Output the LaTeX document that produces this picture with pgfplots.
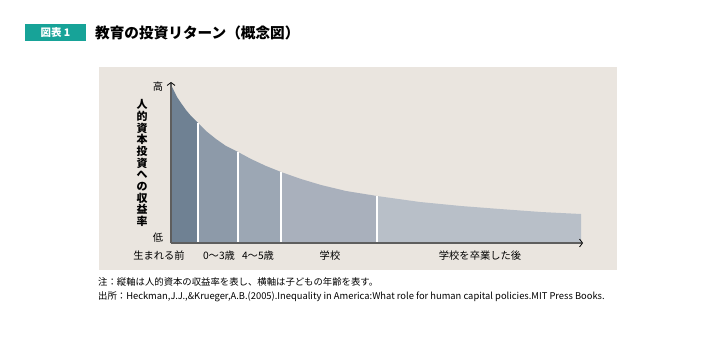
\documentclass[border=0pt]{standalone}
\usepackage{pgfplots}
\pgfplotsset{compat=1.18}
\usepackage{fontspec}
\setmainfont{Noto Sans CJK JP}
\usetikzlibrary{arrows.meta}
\definecolor{bg}{HTML}{EAE5DF}
\definecolor{tealbox}{HTML}{17A398}
\definecolor{axgray}{HTML}{5E5E5E}
\definecolor{s1}{HTML}{6F8193}
\definecolor{s2}{HTML}{8D9AA9}
\definecolor{s3}{HTML}{9CA7B4}
\definecolor{s4}{HTML}{A9B0BC}
\definecolor{s5}{HTML}{B8BFC8}
\begin{document}
\begin{tikzpicture}[x=1bp,y=1bp]
\fill[white] (0,0) rectangle (717,340);
\fill[bg] (99,70) rectangle (617,273);
\fill[tealbox] (25,299) rectangle (86,316);
\node[white, font=\fontsize{10.5}{12}\selectfont\bfseries, inner sep=0] at (55.5,307.5) {図表 1};
\node[anchor=west, font=\fontsize{14.7}{16}\selectfont\bfseries, inner sep=0] at (95,307.5) {教育の投資リターン（概念図）};
\begin{axis}[at={(171bp,97bp)}, anchor=south west, scale only axis,
  width=412bp, height=161bp, xmin=0, xmax=412, ymin=0, ymax=161,
  axis lines=left, axis on top, ticks=none, clip=false,
  axis line style={draw=axgray, line width=1.6bp, -{Straight Barb[length=3bp,width=8bp,black,line width=0.8bp]}}]
\addplot[fill=s1, draw=none] coordinates {(0,158) (3,152) (6,146) (10,140) (15,133) (20,127) (27,120)} \closedcycle;
\addplot[fill=s2, draw=none] coordinates {(27,120) (35,112) (45,104) (55,97) (67,91)} \closedcycle;
\addplot[fill=s3, draw=none] coordinates {(67,91) (80,84) (95,77) (110,71)} \closedcycle;
\addplot[fill=s4, draw=none] coordinates {(110,71) (130,64) (150,58) (175,52) (206,47)} \closedcycle;
\addplot[fill=s5, draw=none] coordinates {(206,47) (249,41) (290,37) (329,34) (370,31) (410,29)} \closedcycle;
\addplot[white, line width=1.2bp] coordinates {(27,0) (27,120)};
\addplot[white, line width=1.2bp] coordinates {(67,0) (67,91)};
\addplot[white, line width=1.2bp] coordinates {(110,0) (110,71)};
\addplot[white, line width=1.2bp] coordinates {(206,0) (206,47)};
\begin{scope}[every node/.style={font=\fontsize{10.3}{11}\selectfont, inner sep=0}]
\node at (axis cs:-12,-13) {生まれる前};
\node at (axis cs:48,-13) {0〜3歳};
\node at (axis cs:87,-13) {4〜5歳};
\node at (axis cs:159,-13) {学校};
\node at (axis cs:309,-13) {学校を卒業した後};
\node at (axis cs:-13,156) {高};
\node at (axis cs:-13,5) {低};
\end{scope}
\node[font=\fontsize{11}{11.7}\selectfont\bfseries, align=center, inner sep=0] at (axis cs:-29,80) {人\\的\\資\\本\\投\\資\\へ\\の\\収\\益\\率};
\end{axis}
\node[anchor=west, inner sep=0, font=\fontsize{9.4}{10}\selectfont] at (98,58) {注：縦軸は人的資本の収益率を表し、横軸は子どもの年齢を表す。};
\node[anchor=west, inner sep=0, font=\fontsize{9.4}{10}\selectfont] at (98,43) {出所：Heckman,J.J.,\&Krueger,A.B.(2005).Inequality in America:What role for human capital policies.MIT Press Books.};
\end{tikzpicture}
\end{document}
